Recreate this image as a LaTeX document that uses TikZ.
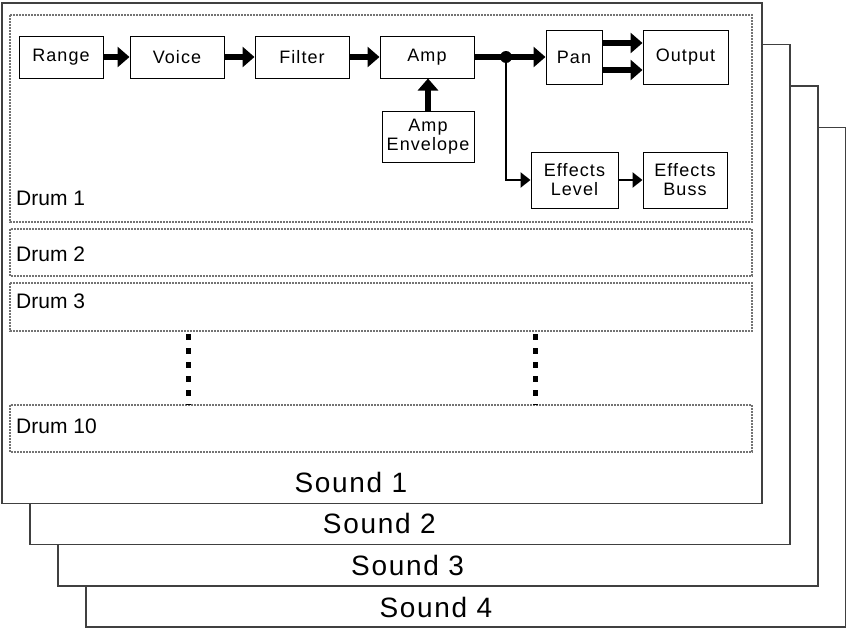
\documentclass[tikz,border=0pt]{standalone}
\usepackage{fontspec}
\setmainfont{Liberation Sans}
\newfontfamily\wideface[LetterSpace=6]{Liberation Sans}
\usetikzlibrary{arrows.meta}

\begin{document}
\begin{tikzpicture}[x=1pt,y=-1pt,
	sndbox/.style={draw=black!75,fill=white,line width=1.5pt},
	sndlab/.style={inner sep=0pt,font=\wideface\fontsize{28}{30}\selectfont},
	drumbox/.style={draw=black!55,densely dotted,line width=2pt},
	drumlab/.style={anchor=base west,inner sep=0pt,font=\fontsize{21}{24}\selectfont},
	blk/.style={draw,line width=1pt,inner sep=0pt,align=center,font=\wideface\fontsize{18}{19}\selectfont},
	thk/.style={line width=6.5pt,-{Triangle[length=12pt,width=20pt]}},
	thn/.style={line width=2.8pt,-{Triangle[length=10pt,width=15pt]}},
	vdots/.style={line width=5pt,dash pattern=on 6pt off 8pt}]
	\useasboundingbox (0,0) rectangle (846,629);
	% 四层 Sound 叠放
	\foreach \i in {3,2,1,0}{
		\pgfmathtruncatemacro{\n}{\i+1}
		\draw[sndbox] (2+28*\i,3+41.5*\i) rectangle (762+28*\i,503.5+41.2*\i);
		\node[sndlab] (snd\n) at (351+28.3*\i,482+41.7*\i) {Sound \n};
	}
	% Drum 框
	\draw[drumbox] (10,15) rectangle (752,222);
	\draw[drumbox] (10,229) rectangle (752,276);
	\draw[drumbox] (10,283) rectangle (752,331);
	\draw[drumbox] (10,405) rectangle (752,452);
	\node[drumlab] (d1) at (16,205) {Drum 1};
	\node[drumlab] (d2) at (16,261) {Drum 2};
	\node[drumlab] (d3) at (16,308) {Drum 3};
	\node[drumlab] (d10) at (16,433) {Drum 10};
	% 省略号
	\draw[vdots] (188,334) -- (188,405);
	\draw[vdots] (535,334) -- (535,405);
	% 信号链
	\node[blk,minimum width=84pt,minimum height=42pt] (range) at (61,57) {Range};
	\node[blk,minimum width=94pt,minimum height=42pt] (voice) at (177,57) {Voice};
	\node[blk,minimum width=94pt,minimum height=42pt] (filter) at (302,57) {Filter};
	\node[blk,minimum width=94pt,minimum height=42pt] (amp) at (427,57) {Amp};
	\node[blk,minimum width=92pt,minimum height=51pt] (env) at (428,136.5) {Amp\\Envelope};
	\node[blk,minimum width=56pt,minimum height=54pt] (pan) at (574,57) {Pan};
	\node[blk,minimum width=85pt,minimum height=54pt] (out) at (685.5,57) {Output};
	\node[blk,minimum width=87pt,minimum height=56pt] (efl) at (574.5,180) {Effects\\Level};
	\node[blk,minimum width=84pt,minimum height=56pt] (efb) at (685,180) {Effects\\Buss};
	% 箭头
	\draw[thk] (range) -- (voice);
	\draw[thk] (voice) -- (filter);
	\draw[thk] (filter) -- (amp);
	\draw[thk] (env.north) -- (env.north |- amp.south);
	\coordinate (j) at (506,57);
	\draw[thk] (amp) -- (pan);
	\fill (j) circle (6);
	\draw[thn] (j) |- (efl);
	\draw[thn] (efl) -- (efb);
	\draw[thk] ([yshift=14pt]pan.east) -- ([yshift=14pt]pan.east -| out.west);
	\draw[thk] ([yshift=-13pt]pan.east) -- ([yshift=-13pt]pan.east -| out.west);
\end{tikzpicture}
\end{document}
